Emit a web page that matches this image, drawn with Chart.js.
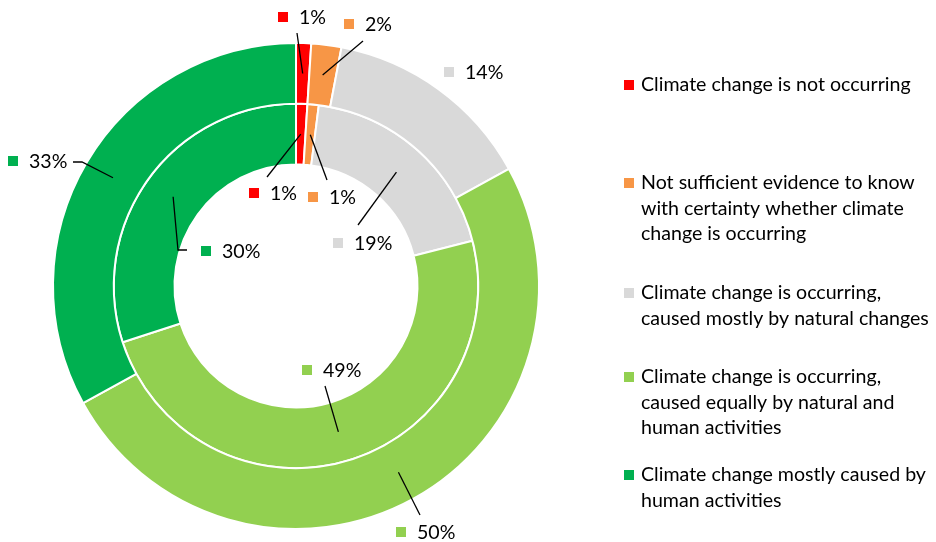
<!DOCTYPE html>
<html>
<head>
<meta charset="utf-8">
<script src="https://cdn.jsdelivr.net/npm/chart.js@4.4.1/dist/chart.umd.min.js"></script>
<style>
  html, body { margin: 0; padding: 0; background: #fff; }
  #wrap { width: 936px; height: 542px; position: relative; }
</style>
</head>
<body>
<div id="wrap"><canvas id="myDoughnut"></canvas></div>
<script>
var categories = [
    ["Climate change is not occurring"],
    ["Not sufficient evidence to know", "with certainty whether climate", "change is occurring"],
    ["Climate change is occurring,", "caused mostly by natural changes"],
    ["Climate change is occurring,", "caused equally by natural and", "human activities"],
    ["Climate change mostly caused by", "human activities"]
];
var outerValues = [1, 2, 14, 50, 33];
var innerValues = [1, 1, 19, 49, 30];
var colors = ["#FF0000", "#F79646", "#D9D9D9", "#92D050", "#00B050"];

var FONT = "19.6px Lato, 'Open Sans', sans-serif";

// where each data label sits: marker left x, text middle y, leader start, optional stub end
var labelLayout = [
    [
        { x: 278, y: 17, from: [297, 33] },
        { x: 344, y: 24, from: [363, 41] },
        { x: 444, y: 72 },
        { x: 396, y: 532, from: [420, 515] },
        { x: 8, y: 161, from: [73, 162], stub: [82, 162] }
    ],
    [
        { x: 249, y: 193, from: [267, 177] },
        { x: 308, y: 197, from: [327, 180] },
        { x: 333, y: 243, from: [358, 225] },
        { x: 302, y: 370, from: [325, 386] },
        { x: 201, y: 251, from: [187, 250], stub: [178, 250] }
    ]
];

var labelPlugin = {
    id: "ringLabels",
    afterDatasetsDraw: function (chart) {
        var ctx = chart.ctx;
        ctx.save();
        ctx.font = FONT;
        ctx.textBaseline = "middle";
        ctx.textAlign = "left";
        chart.data.datasets.forEach(function (ds, di) {
            var meta = chart.getDatasetMeta(di);
            meta.data.forEach(function (arc, i) {
                var lay = labelLayout[di][i];
                var c = arc.getCenterPoint();
                if (lay.from) {
                    ctx.beginPath();
                    ctx.strokeStyle = "#000";
                    ctx.lineWidth = 1.3;
                    ctx.moveTo(lay.from[0], lay.from[1]);
                    if (lay.stub) ctx.lineTo(lay.stub[0], lay.stub[1]);
                    ctx.lineTo(c.x, c.y);
                    ctx.stroke();
                }
                ctx.fillStyle = ds.backgroundColor[i];
                ctx.fillRect(lay.x, lay.y - 5, 10, 10);
                ctx.fillStyle = "#000";
                ctx.fillText(ds.data[i] + "%", lay.x + 21, lay.y + 1);
            });
        });
        ctx.restore();
    }
};

var legendYs = [85, 183, 293, 377, 475];

var legendPlugin = {
    id: "sideLegend",
    afterDraw: function (chart) {
        var ctx = chart.ctx;
        ctx.save();
        ctx.font = FONT;
        ctx.textBaseline = "middle";
        ctx.textAlign = "left";
        chart.data.labels.forEach(function (lines, i) {
            var y = legendYs[i];
            ctx.fillStyle = colors[i];
            ctx.fillRect(624, y - 5, 10, 10);
            ctx.fillStyle = "#000";
            lines.forEach(function (line, k) {
                ctx.fillText(line, 641, y + k * 25.3);
            });
        });
        ctx.restore();
    }
};

function drawDoughnut() {
    var ctx = document.getElementById("myDoughnut").getContext("2d");
    var myDoughnut = new Chart(ctx, {
        type: "doughnut",
        data: {
            labels: categories,
            datasets: [
                {
                    data: outerValues,
                    backgroundColor: colors,
                    borderColor: "#FFFFFF",
                    borderWidth: 2,
                    hoverOffset: 0
                },
                {
                    data: innerValues,
                    backgroundColor: colors,
                    borderColor: "#FFFFFF",
                    borderWidth: 2,
                    hoverOffset: 0
                }
            ]
        },
        options: {
            responsive: true,
            maintainAspectRatio: false,
            animation: false,
            cutout: "50%",
            layout: { padding: { top: 42, bottom: 12, left: 52, right: 396 } },
            plugins: {
                legend: { display: false },
                tooltip: { enabled: false }
            }
        },
        plugins: [labelPlugin, legendPlugin]
    });
}

window.onload = function () {
    drawDoughnut();
};
</script>
</body>
</html>
